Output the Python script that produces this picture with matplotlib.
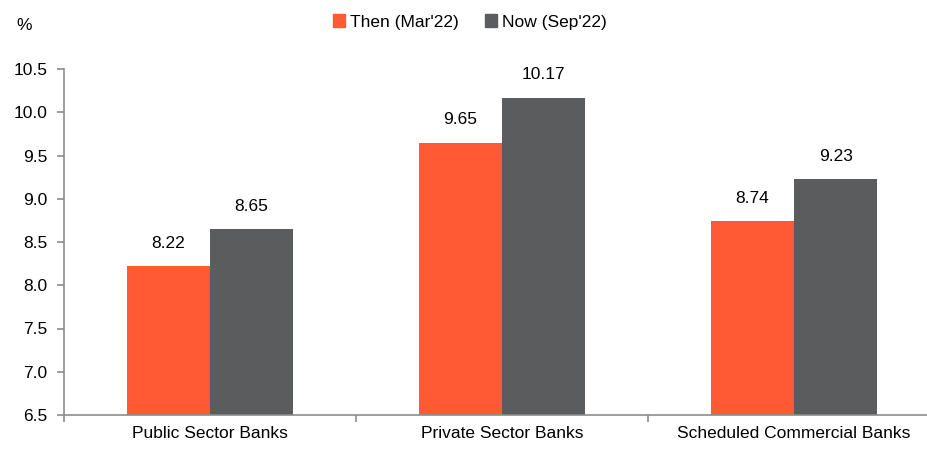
import numpy as np
import matplotlib.pyplot as plt
from matplotlib.patches import Patch

# --- data ---
categories = ["Public Sector Banks", "Private Sector Banks", "Scheduled Commercial Banks"]
then_vals = [8.22, 9.65, 8.74]
now_vals = [8.65, 10.17, 9.23]
series_names = ["Then (Mar'22)", "Now (Sep'22)"]

orange = "#FF5A33"
grey = "#5B5C5E"
axis_col = "#8C8C8C"

plt.rcParams['font.family'] = ['Liberation Sans', 'DejaVu Sans']
plt.rcParams['font.size'] = 12.5

fig = plt.figure(figsize=(9.27, 4.5), dpi=100)
# axes extends a little past the right edge, like the original
ax = fig.add_axes([64 / 927, (450 - 415) / 450, 876 / 927, 346 / 450])

x = np.arange(len(categories))
w = 0.285
ax.bar(x - w / 2, np.array(then_vals) - 6.5, w, bottom=6.5, color=orange)
ax.bar(x + w / 2, np.array(now_vals) - 6.5, w, bottom=6.5, color=grey)

for xs, vals in [(x - w / 2, then_vals), (x + w / 2, now_vals)]:
    for xi, v in zip(xs, vals):
        ax.annotate(f"{v:.2f}", (xi, v), xytext=(0, 11), textcoords="offset points",
                    ha="center", va="bottom", fontsize=12.5)

ax.set_ylim(6.5, 10.5)
ax.set_yticks(np.arange(6.5, 10.51, 0.5))
ax.set_yticklabels([f"{t:.1f}" for t in np.arange(6.5, 10.51, 0.5)])
ax.set_xlim(-0.5, 2.5)

# category labels centred, ticks at boundaries
ax.set_xticks([-0.5, 0.5, 1.5, 2.5])
ax.set_xticklabels([])
ax.set_xticks(x, minor=True)
ax.set_xticklabels(categories, minor=True)
ax.tick_params(axis="x", which="minor", length=0, pad=8)
ax.tick_params(axis="x", which="major", length=5, color=axis_col, width=1.2)
ax.tick_params(axis="y", length=5, color=axis_col, width=1.2, pad=7)

for s in ["top", "right"]:
    ax.spines[s].set_visible(False)
for s in ["left", "bottom"]:
    ax.spines[s].set_color(axis_col)
    ax.spines[s].set_linewidth(1.2)

fig.text(16 / 927, 1 - 25 / 450, "%", fontsize=12.5, va="center")

handles = [Patch(color=orange), Patch(color=grey)]
fig.legend(handles, series_names, loc="center", bbox_to_anchor=(470 / 927, 1 - 22 / 450),
           ncol=2, frameon=False, handlelength=0.7, handleheight=0.7,
           handletextpad=0.3, columnspacing=1.5, fontsize=12.5)

fig.savefig("out.png", dpi=100)
